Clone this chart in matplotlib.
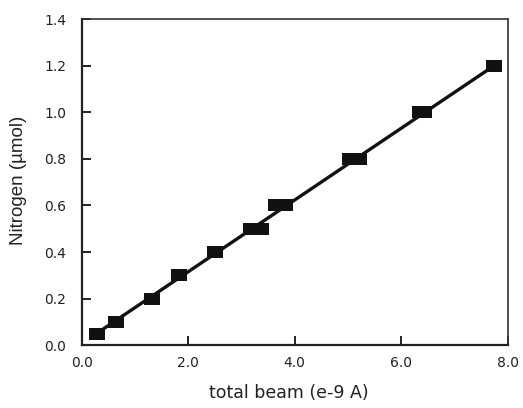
import matplotlib.pyplot as plt
from matplotlib.ticker import FormatStrFormatter

plt.rcParams['font.family'] = ['DejaVu Sans']

# beam current vs nitrogen amount
beam = [0.28, 0.64, 1.33, 1.83, 2.51, 3.18, 3.37, 3.65, 3.82, 5.04, 5.20, 6.35, 6.43, 7.74]
nitrogen = [0.05, 0.10, 0.20, 0.30, 0.40, 0.50, 0.50, 0.60, 0.60, 0.80, 0.80, 1.00, 1.00, 1.20]
xticks = [0.0, 2.0, 4.0, 6.0, 8.0]
yticks = [0.0, 0.2, 0.4, 0.6, 0.8, 1.0, 1.2, 1.4]

fig = plt.figure(figsize=(5.23, 4.08), dpi=100)
ax = fig.add_axes([0.156, 0.154, 0.815, 0.799])

# straight calibration line from first to last measurement
ax.plot([beam[0], beam[-1]], [nitrogen[0], nitrogen[-1]], color='#111111',
        linewidth=2.4, solid_capstyle='butt')

# rectangular marker, a bit wider than tall
rect = [(-1.0, -0.7), (1.0, -0.7), (1.0, 0.7), (-1.0, 0.7), (-1.0, -0.7)]
ax.plot(beam, nitrogen, linestyle='none',
        marker=rect, markersize=11.5, markerfacecolor='#111111',
        markeredgecolor='#111111', markeredgewidth=0)

ax.set_xlim(0, 8)
ax.set_ylim(0, 1.4)
ax.set_xticks(xticks)
ax.set_yticks(yticks)
ax.xaxis.set_major_formatter(FormatStrFormatter('%.1f'))
ax.yaxis.set_major_formatter(FormatStrFormatter('%.1f'))
ax.tick_params(direction='in', length=6.5, width=1.4, labelsize=10,
               colors='#222222', top=False, right=False)
ax.tick_params(axis='x', pad=8)
ax.tick_params(axis='y', pad=11)

for side in ['left', 'bottom']:
    ax.spines[side].set_linewidth(1.6)
    ax.spines[side].set_color('#222222')
for side in ['top', 'right']:
    ax.spines[side].set_linewidth(1.2)
    ax.spines[side].set_color('#333333')

ax.set_xlabel('total beam (e-9 A)', fontsize=12.5, color='#222222')
ax.set_ylabel('Nitrogen (µmol)', fontsize=13.5, color='#222222',
              family=['Liberation Sans', 'DejaVu Sans'])
ax.xaxis.set_label_coords(0.485, -0.118)
ax.yaxis.set_label_coords(-0.128, 0.506)

plt.savefig('out.png', dpi=100)
